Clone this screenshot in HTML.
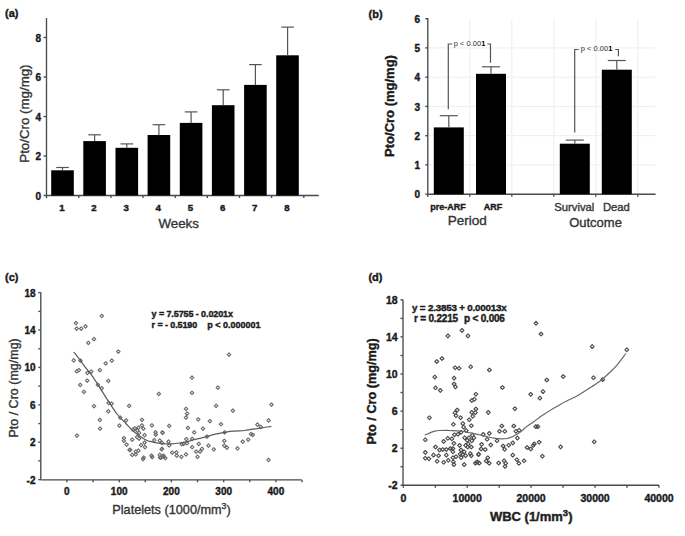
<!DOCTYPE html>
<html><head><meta charset="utf-8"><style>
html,body{margin:0;padding:0;background:#fff;}
svg{display:block;font-family:"Liberation Sans", sans-serif;}
.n{stroke:#333;stroke-width:0.35px;}
.b{stroke:#1a1a1a;stroke-width:0.4px;}
</style></head><body>
<svg width="685" height="536" viewBox="0 0 685 536">
<rect width="685" height="536" fill="#fff"/>
<text x="5.0" y="17.3" font-size="11" font-weight="bold" text-anchor="start" fill="#1a1a1a"  class="b">(a)</text>
<line x1="46.5" y1="18.0" x2="46.5" y2="195.5" stroke="#4a4a4a" stroke-width="1.35"/>
<line x1="46.5" y1="195.5" x2="318.8" y2="195.5" stroke="#4a4a4a" stroke-width="1.35"/>
<line x1="46.5" y1="195.5" x2="46.5" y2="198.3" stroke="#4a4a4a" stroke-width="1.35"/>
<line x1="43.5" y1="195.5" x2="46.5" y2="195.5" stroke="#4a4a4a" stroke-width="1.35"/>
<text x="41.0" y="199.6" font-size="10" font-weight="bold" text-anchor="end" fill="#1a1a1a"  class="b">0</text>
<line x1="43.5" y1="156.0" x2="46.5" y2="156.0" stroke="#4a4a4a" stroke-width="1.35"/>
<text x="41.0" y="160.1" font-size="10" font-weight="bold" text-anchor="end" fill="#1a1a1a"  class="b">2</text>
<line x1="43.5" y1="116.5" x2="46.5" y2="116.5" stroke="#4a4a4a" stroke-width="1.35"/>
<text x="41.0" y="120.6" font-size="10" font-weight="bold" text-anchor="end" fill="#1a1a1a"  class="b">4</text>
<line x1="43.5" y1="77.0" x2="46.5" y2="77.0" stroke="#4a4a4a" stroke-width="1.35"/>
<text x="41.0" y="81.1" font-size="10" font-weight="bold" text-anchor="end" fill="#1a1a1a"  class="b">6</text>
<line x1="43.5" y1="37.5" x2="46.5" y2="37.5" stroke="#4a4a4a" stroke-width="1.35"/>
<text x="41.0" y="41.6" font-size="10" font-weight="bold" text-anchor="end" fill="#1a1a1a"  class="b">8</text>
<line x1="78.8" y1="195.5" x2="78.8" y2="198.0" stroke="#4a4a4a" stroke-width="1.35"/>
<line x1="110.9" y1="195.5" x2="110.9" y2="198.0" stroke="#4a4a4a" stroke-width="1.35"/>
<line x1="143.0" y1="195.5" x2="143.0" y2="198.0" stroke="#4a4a4a" stroke-width="1.35"/>
<line x1="175.2" y1="195.5" x2="175.2" y2="198.0" stroke="#4a4a4a" stroke-width="1.35"/>
<line x1="207.3" y1="195.5" x2="207.3" y2="198.0" stroke="#4a4a4a" stroke-width="1.35"/>
<line x1="239.5" y1="195.5" x2="239.5" y2="198.0" stroke="#4a4a4a" stroke-width="1.35"/>
<line x1="271.6" y1="195.5" x2="271.6" y2="198.0" stroke="#4a4a4a" stroke-width="1.35"/>
<line x1="303.8" y1="195.5" x2="303.8" y2="198.0" stroke="#4a4a4a" stroke-width="1.35"/>
<rect x="51.2" y="170.3" width="22.6" height="25.2" fill="#000"/>
<line x1="62.5" y1="167.5" x2="62.5" y2="170.3" stroke="#555" stroke-width="1.2"/>
<line x1="56.2" y1="167.5" x2="68.8" y2="167.5" stroke="#555" stroke-width="1.2"/>
<text x="61.9" y="210.5" font-size="9.7" font-weight="bold" text-anchor="middle" fill="#1a1a1a"  class="b">1</text>
<rect x="83.3" y="141.1" width="22.6" height="54.4" fill="#000"/>
<line x1="94.6" y1="134.8" x2="94.6" y2="141.1" stroke="#555" stroke-width="1.2"/>
<line x1="88.3" y1="134.8" x2="100.9" y2="134.8" stroke="#555" stroke-width="1.2"/>
<text x="94.0" y="210.5" font-size="9.7" font-weight="bold" text-anchor="middle" fill="#1a1a1a"  class="b">2</text>
<rect x="115.5" y="147.8" width="22.6" height="47.7" fill="#000"/>
<line x1="126.8" y1="143.9" x2="126.8" y2="147.8" stroke="#555" stroke-width="1.2"/>
<line x1="120.5" y1="143.9" x2="133.1" y2="143.9" stroke="#555" stroke-width="1.2"/>
<text x="126.2" y="210.5" font-size="9.7" font-weight="bold" text-anchor="middle" fill="#1a1a1a"  class="b">3</text>
<rect x="147.6" y="135.0" width="22.6" height="60.5" fill="#000"/>
<line x1="158.9" y1="124.7" x2="158.9" y2="135.0" stroke="#555" stroke-width="1.2"/>
<line x1="152.6" y1="124.7" x2="165.2" y2="124.7" stroke="#555" stroke-width="1.2"/>
<text x="158.3" y="210.5" font-size="9.7" font-weight="bold" text-anchor="middle" fill="#1a1a1a"  class="b">4</text>
<rect x="179.8" y="122.9" width="22.6" height="72.6" fill="#000"/>
<line x1="191.1" y1="111.9" x2="191.1" y2="122.9" stroke="#555" stroke-width="1.2"/>
<line x1="184.8" y1="111.9" x2="197.4" y2="111.9" stroke="#555" stroke-width="1.2"/>
<text x="190.5" y="210.5" font-size="9.7" font-weight="bold" text-anchor="middle" fill="#1a1a1a"  class="b">5</text>
<rect x="211.9" y="105.2" width="22.6" height="90.3" fill="#000"/>
<line x1="223.2" y1="89.8" x2="223.2" y2="105.2" stroke="#555" stroke-width="1.2"/>
<line x1="216.9" y1="89.8" x2="229.6" y2="89.8" stroke="#555" stroke-width="1.2"/>
<text x="222.7" y="210.5" font-size="9.7" font-weight="bold" text-anchor="middle" fill="#1a1a1a"  class="b">6</text>
<rect x="244.1" y="84.9" width="22.6" height="110.6" fill="#000"/>
<line x1="255.4" y1="64.6" x2="255.4" y2="84.9" stroke="#555" stroke-width="1.2"/>
<line x1="249.1" y1="64.6" x2="261.7" y2="64.6" stroke="#555" stroke-width="1.2"/>
<text x="254.8" y="210.5" font-size="9.7" font-weight="bold" text-anchor="middle" fill="#1a1a1a"  class="b">7</text>
<rect x="276.2" y="55.3" width="22.6" height="140.2" fill="#000"/>
<line x1="287.6" y1="27.1" x2="287.6" y2="55.3" stroke="#555" stroke-width="1.2"/>
<line x1="281.2" y1="27.1" x2="293.9" y2="27.1" stroke="#555" stroke-width="1.2"/>
<text x="286.9" y="210.5" font-size="9.7" font-weight="bold" text-anchor="middle" fill="#1a1a1a"  class="b">8</text>
<text x="178.7" y="227.9" font-size="13.3" font-weight="normal" text-anchor="middle" fill="#333" class="n">Weeks</text>
<text transform="translate(29.4,113.6) rotate(-90)" font-size="13.3" text-anchor="middle" fill="#333" class="n">Pto/Cro (mg/mg)</text>
<text x="368.5" y="17.8" font-size="11" font-weight="bold" text-anchor="start" fill="#1a1a1a"  class="b">(b)</text>
<line x1="427.8" y1="164.9" x2="655.6" y2="164.9" stroke="#eeeeee" stroke-width="1"/>
<line x1="427.8" y1="135.7" x2="655.6" y2="135.7" stroke="#eeeeee" stroke-width="1"/>
<line x1="427.8" y1="106.4" x2="655.6" y2="106.4" stroke="#eeeeee" stroke-width="1"/>
<line x1="427.8" y1="77.2" x2="655.6" y2="77.2" stroke="#eeeeee" stroke-width="1"/>
<line x1="427.8" y1="47.9" x2="655.6" y2="47.9" stroke="#eeeeee" stroke-width="1"/>
<line x1="469.8" y1="19.0" x2="469.8" y2="194.2" stroke="#eeeeee" stroke-width="1"/>
<line x1="511.8" y1="19.0" x2="511.8" y2="194.2" stroke="#eeeeee" stroke-width="1"/>
<line x1="553.8" y1="19.0" x2="553.8" y2="194.2" stroke="#eeeeee" stroke-width="1"/>
<line x1="595.8" y1="19.0" x2="595.8" y2="194.2" stroke="#eeeeee" stroke-width="1"/>
<line x1="637.8" y1="19.0" x2="637.8" y2="194.2" stroke="#eeeeee" stroke-width="1"/>
<line x1="427.8" y1="18.0" x2="427.8" y2="194.2" stroke="#4a4a4a" stroke-width="1.35"/>
<line x1="427.8" y1="194.2" x2="655.6" y2="194.2" stroke="#4a4a4a" stroke-width="1.35"/>
<line x1="427.8" y1="194.2" x2="427.8" y2="197.0" stroke="#4a4a4a" stroke-width="1.35"/>
<line x1="425.3" y1="194.2" x2="427.8" y2="194.2" stroke="#4a4a4a" stroke-width="1.35"/>
<text x="420.0" y="198.4" font-size="10" font-weight="bold" text-anchor="end" fill="#1a1a1a"  class="b">0</text>
<line x1="425.3" y1="164.9" x2="427.8" y2="164.9" stroke="#4a4a4a" stroke-width="1.35"/>
<text x="420.0" y="169.1" font-size="10" font-weight="bold" text-anchor="end" fill="#1a1a1a"  class="b">1</text>
<line x1="425.3" y1="135.7" x2="427.8" y2="135.7" stroke="#4a4a4a" stroke-width="1.35"/>
<text x="420.0" y="139.9" font-size="10" font-weight="bold" text-anchor="end" fill="#1a1a1a"  class="b">2</text>
<line x1="425.3" y1="106.4" x2="427.8" y2="106.4" stroke="#4a4a4a" stroke-width="1.35"/>
<text x="420.0" y="110.6" font-size="10" font-weight="bold" text-anchor="end" fill="#1a1a1a"  class="b">3</text>
<line x1="425.3" y1="77.2" x2="427.8" y2="77.2" stroke="#4a4a4a" stroke-width="1.35"/>
<text x="420.0" y="81.4" font-size="10" font-weight="bold" text-anchor="end" fill="#1a1a1a"  class="b">4</text>
<line x1="425.3" y1="47.9" x2="427.8" y2="47.9" stroke="#4a4a4a" stroke-width="1.35"/>
<text x="420.0" y="52.1" font-size="10" font-weight="bold" text-anchor="end" fill="#1a1a1a"  class="b">5</text>
<line x1="425.3" y1="18.7" x2="427.8" y2="18.7" stroke="#4a4a4a" stroke-width="1.35"/>
<text x="420.0" y="22.9" font-size="10" font-weight="bold" text-anchor="end" fill="#1a1a1a"  class="b">6</text>
<line x1="469.8" y1="194.2" x2="469.8" y2="196.7" stroke="#4a4a4a" stroke-width="1.35"/>
<line x1="511.8" y1="194.2" x2="511.8" y2="196.7" stroke="#4a4a4a" stroke-width="1.35"/>
<line x1="553.8" y1="194.2" x2="553.8" y2="196.7" stroke="#4a4a4a" stroke-width="1.35"/>
<line x1="595.8" y1="194.2" x2="595.8" y2="196.7" stroke="#4a4a4a" stroke-width="1.35"/>
<line x1="637.8" y1="194.2" x2="637.8" y2="196.7" stroke="#4a4a4a" stroke-width="1.35"/>
<rect x="433.8" y="127.4" width="30" height="66.8" fill="#000"/>
<line x1="448.8" y1="115.7" x2="448.8" y2="127.4" stroke="#555" stroke-width="1.2"/>
<line x1="439.8" y1="115.7" x2="457.8" y2="115.7" stroke="#555" stroke-width="1.2"/>
<rect x="476.0" y="73.8" width="30" height="120.4" fill="#000"/>
<line x1="491.0" y1="66.8" x2="491.0" y2="73.8" stroke="#555" stroke-width="1.2"/>
<line x1="482.0" y1="66.8" x2="500.0" y2="66.8" stroke="#555" stroke-width="1.2"/>
<rect x="559.8" y="143.7" width="30" height="50.5" fill="#000"/>
<line x1="574.8" y1="140.1" x2="574.8" y2="143.7" stroke="#555" stroke-width="1.2"/>
<line x1="565.8" y1="140.1" x2="583.8" y2="140.1" stroke="#555" stroke-width="1.2"/>
<rect x="601.8" y="69.7" width="30" height="124.5" fill="#000"/>
<line x1="616.8" y1="60.5" x2="616.8" y2="69.7" stroke="#555" stroke-width="1.2"/>
<line x1="607.8" y1="60.5" x2="625.8" y2="60.5" stroke="#555" stroke-width="1.2"/>
<polyline points="448.3,109.3 448.3,44 452.3,44" fill="none" stroke="#555" stroke-width="1.2"/>
<polyline points="487.3,44 490.5,44 490.5,62.7" fill="none" stroke="#555" stroke-width="1.2"/>
<text x="453.8" y="45.9" font-size="7.5" fill="#333">p &lt; 0.00<tspan font-weight="bold" fill="#000">1</tspan></text>
<polyline points="574.7,132.6 574.7,49.5 578.7,49.5" fill="none" stroke="#555" stroke-width="1.2"/>
<polyline points="615.1999999999999,49.5 618.4,49.5 618.4,56.3" fill="none" stroke="#555" stroke-width="1.2"/>
<text x="580.8" y="50.7" font-size="7.5" fill="#333">p &lt; 0.00<tspan font-weight="bold" fill="#000">1</tspan></text>
<text x="448.0" y="210.0" font-size="9" font-weight="bold" text-anchor="middle" fill="#1a1a1a"  class="b">pre-ARF</text>
<text x="493.0" y="210.0" font-size="9" font-weight="bold" text-anchor="middle" fill="#1a1a1a"  class="b">ARF</text>
<text x="574.3" y="210.8" font-size="11.3" font-weight="normal" text-anchor="middle" fill="#333" class="n">Survival</text>
<text x="616.4" y="210.8" font-size="11.3" font-weight="normal" text-anchor="middle" fill="#333" class="n">Dead</text>
<text x="467.3" y="224.9" font-size="13.5" font-weight="normal" text-anchor="middle" fill="#333" class="n">Period</text>
<text x="595.5" y="226.9" font-size="13" font-weight="normal" text-anchor="middle" fill="#333" class="n">Outcome</text>
<text transform="translate(394,106) rotate(-90)" font-size="13" font-weight="bold" text-anchor="middle" fill="#1a1a1a" class="b">Pto/Cro (mg/mg)</text>
<text x="5.0" y="281.2" font-size="11" font-weight="bold" text-anchor="start" fill="#1a1a1a"  class="b">(c)</text>
<line x1="40.8" y1="292.2" x2="40.8" y2="479.8" stroke="#4a4a4a" stroke-width="1.35"/>
<line x1="40.8" y1="479.8" x2="301.6" y2="479.8" stroke="#4a4a4a" stroke-width="1.35"/>
<line x1="38.3" y1="479.6" x2="40.8" y2="479.6" stroke="#4a4a4a" stroke-width="1.35"/>
<text x="35.5" y="483.5" font-size="10" font-weight="bold" text-anchor="end" fill="#1a1a1a"  class="b">-2</text>
<line x1="38.3" y1="460.9" x2="40.8" y2="460.9" stroke="#4a4a4a" stroke-width="1.35"/>
<line x1="38.3" y1="442.2" x2="40.8" y2="442.2" stroke="#4a4a4a" stroke-width="1.35"/>
<text x="35.5" y="446.1" font-size="10" font-weight="bold" text-anchor="end" fill="#1a1a1a"  class="b">2</text>
<line x1="38.3" y1="423.6" x2="40.8" y2="423.6" stroke="#4a4a4a" stroke-width="1.35"/>
<line x1="38.3" y1="404.9" x2="40.8" y2="404.9" stroke="#4a4a4a" stroke-width="1.35"/>
<text x="35.5" y="408.8" font-size="10" font-weight="bold" text-anchor="end" fill="#1a1a1a"  class="b">6</text>
<line x1="38.3" y1="386.1" x2="40.8" y2="386.1" stroke="#4a4a4a" stroke-width="1.35"/>
<line x1="38.3" y1="367.4" x2="40.8" y2="367.4" stroke="#4a4a4a" stroke-width="1.35"/>
<text x="35.5" y="371.3" font-size="10" font-weight="bold" text-anchor="end" fill="#1a1a1a"  class="b">10</text>
<line x1="38.3" y1="348.8" x2="40.8" y2="348.8" stroke="#4a4a4a" stroke-width="1.35"/>
<line x1="38.3" y1="330.0" x2="40.8" y2="330.0" stroke="#4a4a4a" stroke-width="1.35"/>
<text x="35.5" y="333.9" font-size="10" font-weight="bold" text-anchor="end" fill="#1a1a1a"  class="b">14</text>
<line x1="38.3" y1="311.4" x2="40.8" y2="311.4" stroke="#4a4a4a" stroke-width="1.35"/>
<line x1="38.3" y1="292.6" x2="40.8" y2="292.6" stroke="#4a4a4a" stroke-width="1.35"/>
<text x="35.5" y="296.5" font-size="10" font-weight="bold" text-anchor="end" fill="#1a1a1a"  class="b">18</text>
<line x1="66.9" y1="479.8" x2="66.9" y2="482.3" stroke="#4a4a4a" stroke-width="1.35"/>
<text x="66.9" y="494.6" font-size="10" font-weight="bold" text-anchor="middle" fill="#1a1a1a"  class="b">0</text>
<line x1="93.0" y1="479.8" x2="93.0" y2="482.3" stroke="#4a4a4a" stroke-width="1.35"/>
<line x1="119.2" y1="479.8" x2="119.2" y2="482.3" stroke="#4a4a4a" stroke-width="1.35"/>
<text x="119.2" y="494.6" font-size="10" font-weight="bold" text-anchor="middle" fill="#1a1a1a"  class="b">100</text>
<line x1="145.3" y1="479.8" x2="145.3" y2="482.3" stroke="#4a4a4a" stroke-width="1.35"/>
<line x1="171.4" y1="479.8" x2="171.4" y2="482.3" stroke="#4a4a4a" stroke-width="1.35"/>
<text x="171.4" y="494.6" font-size="10" font-weight="bold" text-anchor="middle" fill="#1a1a1a"  class="b">200</text>
<line x1="197.5" y1="479.8" x2="197.5" y2="482.3" stroke="#4a4a4a" stroke-width="1.35"/>
<line x1="223.7" y1="479.8" x2="223.7" y2="482.3" stroke="#4a4a4a" stroke-width="1.35"/>
<text x="223.7" y="494.6" font-size="10" font-weight="bold" text-anchor="middle" fill="#1a1a1a"  class="b">300</text>
<line x1="249.8" y1="479.8" x2="249.8" y2="482.3" stroke="#4a4a4a" stroke-width="1.35"/>
<line x1="275.9" y1="479.8" x2="275.9" y2="482.3" stroke="#4a4a4a" stroke-width="1.35"/>
<text x="275.9" y="494.6" font-size="10" font-weight="bold" text-anchor="middle" fill="#1a1a1a"  class="b">400</text>
<line x1="302.0" y1="479.8" x2="302.0" y2="482.3" stroke="#4a4a4a" stroke-width="1.35"/>
<text x="112.3" y="513.8" font-size="12.7" font-weight="normal" text-anchor="start" fill="#333" class="n">Platelets (1000/mm<tspan font-size="8.6" dy="-4.9">3</tspan><tspan dy="4.9">)</tspan></text>
<text transform="translate(17.8,387.9) rotate(-90)" font-size="12.5" text-anchor="middle" fill="#333" class="n">Pto / Cro (mg/mg)</text>
<text x="151.6" y="316.8" font-size="9" font-weight="bold" text-anchor="start" fill="#222" letter-spacing="-0.1" class="b">y = 7.5755 - 0.0201x</text>
<text x="151.6" y="327.6" font-size="9" font-weight="bold" text-anchor="start" fill="#222" letter-spacing="-0.1" class="b">r = - 0.5190</text>
<text x="207.3" y="327.6" font-size="9" font-weight="bold" text-anchor="start" fill="#222" letter-spacing="0" class="b">p &lt; 0.000001</text>
<text x="368.4" y="281.2" font-size="11" font-weight="bold" text-anchor="start" fill="#1a1a1a"  class="b">(d)</text>
<line x1="403.0" y1="299.8" x2="403.0" y2="485.2" stroke="#4a4a4a" stroke-width="1.35"/>
<line x1="403.0" y1="485.2" x2="659.0" y2="485.2" stroke="#4a4a4a" stroke-width="1.35"/>
<line x1="400.5" y1="485.2" x2="403.0" y2="485.2" stroke="#4a4a4a" stroke-width="1.35"/>
<text x="397.6" y="489.2" font-size="10.5" font-weight="bold" text-anchor="end" fill="#1a1a1a"  class="b">-2</text>
<line x1="400.5" y1="466.7" x2="403.0" y2="466.7" stroke="#4a4a4a" stroke-width="1.35"/>
<line x1="400.5" y1="448.2" x2="403.0" y2="448.2" stroke="#4a4a4a" stroke-width="1.35"/>
<text x="397.6" y="452.2" font-size="10.5" font-weight="bold" text-anchor="end" fill="#1a1a1a"  class="b">2</text>
<line x1="400.5" y1="429.6" x2="403.0" y2="429.6" stroke="#4a4a4a" stroke-width="1.35"/>
<line x1="400.5" y1="411.1" x2="403.0" y2="411.1" stroke="#4a4a4a" stroke-width="1.35"/>
<text x="397.6" y="415.1" font-size="10.5" font-weight="bold" text-anchor="end" fill="#1a1a1a"  class="b">6</text>
<line x1="400.5" y1="392.5" x2="403.0" y2="392.5" stroke="#4a4a4a" stroke-width="1.35"/>
<line x1="400.5" y1="374.0" x2="403.0" y2="374.0" stroke="#4a4a4a" stroke-width="1.35"/>
<text x="397.6" y="378.0" font-size="10.5" font-weight="bold" text-anchor="end" fill="#1a1a1a"  class="b">10</text>
<line x1="400.5" y1="355.5" x2="403.0" y2="355.5" stroke="#4a4a4a" stroke-width="1.35"/>
<line x1="400.5" y1="336.9" x2="403.0" y2="336.9" stroke="#4a4a4a" stroke-width="1.35"/>
<text x="397.6" y="340.9" font-size="10.5" font-weight="bold" text-anchor="end" fill="#1a1a1a"  class="b">14</text>
<line x1="400.5" y1="318.4" x2="403.0" y2="318.4" stroke="#4a4a4a" stroke-width="1.35"/>
<line x1="400.5" y1="299.8" x2="403.0" y2="299.8" stroke="#4a4a4a" stroke-width="1.35"/>
<text x="397.6" y="303.8" font-size="10.5" font-weight="bold" text-anchor="end" fill="#1a1a1a"  class="b">18</text>
<line x1="403.3" y1="485.2" x2="403.3" y2="487.7" stroke="#4a4a4a" stroke-width="1.35"/>
<text x="403.3" y="502.0" font-size="10.5" font-weight="bold" text-anchor="middle" fill="#1a1a1a"  class="b">0</text>
<line x1="435.3" y1="485.2" x2="435.3" y2="487.7" stroke="#4a4a4a" stroke-width="1.35"/>
<line x1="467.2" y1="485.2" x2="467.2" y2="487.7" stroke="#4a4a4a" stroke-width="1.35"/>
<text x="467.2" y="502.0" font-size="10.5" font-weight="bold" text-anchor="middle" fill="#1a1a1a"  class="b">10000</text>
<line x1="499.2" y1="485.2" x2="499.2" y2="487.7" stroke="#4a4a4a" stroke-width="1.35"/>
<line x1="531.1" y1="485.2" x2="531.1" y2="487.7" stroke="#4a4a4a" stroke-width="1.35"/>
<text x="531.1" y="502.0" font-size="10.5" font-weight="bold" text-anchor="middle" fill="#1a1a1a"  class="b">20000</text>
<line x1="563.1" y1="485.2" x2="563.1" y2="487.7" stroke="#4a4a4a" stroke-width="1.35"/>
<line x1="595.1" y1="485.2" x2="595.1" y2="487.7" stroke="#4a4a4a" stroke-width="1.35"/>
<text x="595.1" y="502.0" font-size="10.5" font-weight="bold" text-anchor="middle" fill="#1a1a1a"  class="b">30000</text>
<line x1="627.0" y1="485.2" x2="627.0" y2="487.7" stroke="#4a4a4a" stroke-width="1.35"/>
<line x1="659.0" y1="485.2" x2="659.0" y2="487.7" stroke="#4a4a4a" stroke-width="1.35"/>
<text x="659.0" y="502.0" font-size="10.5" font-weight="bold" text-anchor="middle" fill="#1a1a1a"  class="b">40000</text>
<text x="489.9" y="520.5" font-size="13.0" font-weight="bold" text-anchor="start" fill="#222"  class="b">WBC (1/mm<tspan font-size="9.5" dy="-5.0">3</tspan><tspan dy="5.0">)</tspan></text>
<text transform="translate(376.3,391.4) rotate(-90)" font-size="12.7" font-weight="bold" text-anchor="middle" fill="#1a1a1a" class="b">Pto / Cro (mg/mg)</text>
<text x="459.3" y="311.3" font-size="9.8" font-weight="bold" text-anchor="middle" fill="#222" letter-spacing="-0.2" class="b">y = 2.3853 + 0.00013x</text>
<text x="414.0" y="321.7" font-size="10" font-weight="bold" text-anchor="start" fill="#222" letter-spacing="-0.2" class="b">r = 0.2215</text>
<text x="464.0" y="321.7" font-size="10" font-weight="bold" text-anchor="start" fill="#222" letter-spacing="-0.2" class="b">p &lt; 0.006</text>
<path d="M101.8,314.1l1.75,1.75l-1.75,1.75l-1.75,-1.75zM75.9,321.4l1.75,1.75l-1.75,1.75l-1.75,-1.75zM76.6,326.9l1.75,1.75l-1.75,1.75l-1.75,-1.75zM81.2,326.9l1.75,1.75l-1.75,1.75l-1.75,-1.75zM85.5,324.6l1.75,1.75l-1.75,1.75l-1.75,-1.75zM94.0,337.4l1.75,1.75l-1.75,1.75l-1.75,-1.75zM88.3,341.1l1.75,1.75l-1.75,1.75l-1.75,-1.75zM118.3,349.9l1.75,1.75l-1.75,1.75l-1.75,-1.75zM73.7,358.6l1.75,1.75l-1.75,1.75l-1.75,-1.75zM80.5,358.9l1.75,1.75l-1.75,1.75l-1.75,-1.75zM111.8,358.9l1.75,1.75l-1.75,1.75l-1.75,-1.75zM105.7,361.6l1.75,1.75l-1.75,1.75l-1.75,-1.75zM76.7,369.6l1.75,1.75l-1.75,1.75l-1.75,-1.75zM78.9,368.4l1.75,1.75l-1.75,1.75l-1.75,-1.75zM87.4,371.1l1.75,1.75l-1.75,1.75l-1.75,-1.75zM91.3,369.8l1.75,1.75l-1.75,1.75l-1.75,-1.75zM99.8,368.4l1.75,1.75l-1.75,1.75l-1.75,-1.75zM87.2,378.9l1.75,1.75l-1.75,1.75l-1.75,-1.75zM108.3,379.1l1.75,1.75l-1.75,1.75l-1.75,-1.75zM80.2,383.1l1.75,1.75l-1.75,1.75l-1.75,-1.75zM97.9,383.1l1.75,1.75l-1.75,1.75l-1.75,-1.75zM101.8,386.4l1.75,1.75l-1.75,1.75l-1.75,-1.75zM83.9,390.1l1.75,1.75l-1.75,1.75l-1.75,-1.75zM108.6,401.1l1.75,1.75l-1.75,1.75l-1.75,-1.75zM111.6,401.8l1.75,1.75l-1.75,1.75l-1.75,-1.75zM129.1,404.1l1.75,1.75l-1.75,1.75l-1.75,-1.75zM94.0,404.4l1.75,1.75l-1.75,1.75l-1.75,-1.75zM108.3,409.6l1.75,1.75l-1.75,1.75l-1.75,-1.75zM99.8,418.1l1.75,1.75l-1.75,1.75l-1.75,-1.75zM120.2,415.9l1.75,1.75l-1.75,1.75l-1.75,-1.75zM126.1,418.6l1.75,1.75l-1.75,1.75l-1.75,-1.75zM119.4,423.8l1.75,1.75l-1.75,1.75l-1.75,-1.75zM100.1,426.9l1.75,1.75l-1.75,1.75l-1.75,-1.75zM76.9,433.8l1.75,1.75l-1.75,1.75l-1.75,-1.75zM123.9,436.4l1.75,1.75l-1.75,1.75l-1.75,-1.75zM123.9,439.1l1.75,1.75l-1.75,1.75l-1.75,-1.75zM126.6,442.9l1.75,1.75l-1.75,1.75l-1.75,-1.75zM129.5,448.1l1.75,1.75l-1.75,1.75l-1.75,-1.75zM158.8,392.2l1.75,1.75l-1.75,1.75l-1.75,-1.75zM192.0,375.9l1.75,1.75l-1.75,1.75l-1.75,-1.75zM217.9,385.9l1.75,1.75l-1.75,1.75l-1.75,-1.75zM192.0,391.1l1.75,1.75l-1.75,1.75l-1.75,-1.75zM229.0,352.9l1.75,1.75l-1.75,1.75l-1.75,-1.75zM271.5,402.8l1.75,1.75l-1.75,1.75l-1.75,-1.75zM142.0,418.1l1.75,1.75l-1.75,1.75l-1.75,-1.75zM142.0,423.6l1.75,1.75l-1.75,1.75l-1.75,-1.75zM143.3,426.9l1.75,1.75l-1.75,1.75l-1.75,-1.75zM151.9,423.6l1.75,1.75l-1.75,1.75l-1.75,-1.75zM134.8,426.6l1.75,1.75l-1.75,1.75l-1.75,-1.75zM138.4,425.9l1.75,1.75l-1.75,1.75l-1.75,-1.75zM133.1,427.9l1.75,1.75l-1.75,1.75l-1.75,-1.75zM137.4,428.9l1.75,1.75l-1.75,1.75l-1.75,-1.75zM139.1,431.1l1.75,1.75l-1.75,1.75l-1.75,-1.75zM144.6,433.4l1.75,1.75l-1.75,1.75l-1.75,-1.75zM137.1,435.4l1.75,1.75l-1.75,1.75l-1.75,-1.75zM139.1,436.8l1.75,1.75l-1.75,1.75l-1.75,-1.75zM155.5,430.6l1.75,1.75l-1.75,1.75l-1.75,-1.75zM155.8,432.9l1.75,1.75l-1.75,1.75l-1.75,-1.75zM162.4,430.6l1.75,1.75l-1.75,1.75l-1.75,-1.75zM132.2,437.9l1.75,1.75l-1.75,1.75l-1.75,-1.75zM144.6,440.8l1.75,1.75l-1.75,1.75l-1.75,-1.75zM154.2,438.4l1.75,1.75l-1.75,1.75l-1.75,-1.75zM159.8,438.8l1.75,1.75l-1.75,1.75l-1.75,-1.75zM162.0,441.1l1.75,1.75l-1.75,1.75l-1.75,-1.75zM141.0,443.4l1.75,1.75l-1.75,1.75l-1.75,-1.75zM145.0,445.4l1.75,1.75l-1.75,1.75l-1.75,-1.75zM130.2,448.2l1.75,1.75l-1.75,1.75l-1.75,-1.75zM161.7,447.6l1.75,1.75l-1.75,1.75l-1.75,-1.75zM135.8,449.9l1.75,1.75l-1.75,1.75l-1.75,-1.75zM138.4,448.9l1.75,1.75l-1.75,1.75l-1.75,-1.75zM132.2,453.1l1.75,1.75l-1.75,1.75l-1.75,-1.75zM135.8,452.6l1.75,1.75l-1.75,1.75l-1.75,-1.75zM143.7,455.9l1.75,1.75l-1.75,1.75l-1.75,-1.75zM143.0,457.4l1.75,1.75l-1.75,1.75l-1.75,-1.75zM151.5,453.9l1.75,1.75l-1.75,1.75l-1.75,-1.75zM152.2,455.4l1.75,1.75l-1.75,1.75l-1.75,-1.75zM159.8,453.1l1.75,1.75l-1.75,1.75l-1.75,-1.75zM160.1,455.9l1.75,1.75l-1.75,1.75l-1.75,-1.75zM163.4,453.9l1.75,1.75l-1.75,1.75l-1.75,-1.75zM186.0,407.1l1.75,1.75l-1.75,1.75l-1.75,-1.75zM187.1,411.9l1.75,1.75l-1.75,1.75l-1.75,-1.75zM186.0,415.9l1.75,1.75l-1.75,1.75l-1.75,-1.75zM198.2,417.6l1.75,1.75l-1.75,1.75l-1.75,-1.75zM169.2,424.2l1.75,1.75l-1.75,1.75l-1.75,-1.75zM187.9,426.2l1.75,1.75l-1.75,1.75l-1.75,-1.75zM203.0,426.9l1.75,1.75l-1.75,1.75l-1.75,-1.75zM194.2,430.6l1.75,1.75l-1.75,1.75l-1.75,-1.75zM162.6,431.1l1.75,1.75l-1.75,1.75l-1.75,-1.75zM168.5,439.8l1.75,1.75l-1.75,1.75l-1.75,-1.75zM169.2,443.6l1.75,1.75l-1.75,1.75l-1.75,-1.75zM186.3,437.4l1.75,1.75l-1.75,1.75l-1.75,-1.75zM192.2,437.1l1.75,1.75l-1.75,1.75l-1.75,-1.75zM181.7,442.4l1.75,1.75l-1.75,1.75l-1.75,-1.75zM186.9,441.4l1.75,1.75l-1.75,1.75l-1.75,-1.75zM183.7,442.1l1.75,1.75l-1.75,1.75l-1.75,-1.75zM162.0,447.2l1.75,1.75l-1.75,1.75l-1.75,-1.75zM198.8,442.1l1.75,1.75l-1.75,1.75l-1.75,-1.75zM192.2,445.4l1.75,1.75l-1.75,1.75l-1.75,-1.75zM196.1,449.9l1.75,1.75l-1.75,1.75l-1.75,-1.75zM200.1,449.9l1.75,1.75l-1.75,1.75l-1.75,-1.75zM202.0,447.2l1.75,1.75l-1.75,1.75l-1.75,-1.75zM172.2,450.9l1.75,1.75l-1.75,1.75l-1.75,-1.75zM176.4,450.6l1.75,1.75l-1.75,1.75l-1.75,-1.75zM176.8,453.9l1.75,1.75l-1.75,1.75l-1.75,-1.75zM181.4,455.1l1.75,1.75l-1.75,1.75l-1.75,-1.75zM186.0,452.6l1.75,1.75l-1.75,1.75l-1.75,-1.75zM197.5,455.1l1.75,1.75l-1.75,1.75l-1.75,-1.75zM164.0,455.1l1.75,1.75l-1.75,1.75l-1.75,-1.75zM165.3,456.4l1.75,1.75l-1.75,1.75l-1.75,-1.75zM161.0,455.9l1.75,1.75l-1.75,1.75l-1.75,-1.75zM216.1,404.1l1.75,1.75l-1.75,1.75l-1.75,-1.75zM232.9,408.9l1.75,1.75l-1.75,1.75l-1.75,-1.75zM209.9,419.4l1.75,1.75l-1.75,1.75l-1.75,-1.75zM221.0,422.4l1.75,1.75l-1.75,1.75l-1.75,-1.75zM206.9,434.8l1.75,1.75l-1.75,1.75l-1.75,-1.75zM224.6,430.6l1.75,1.75l-1.75,1.75l-1.75,-1.75zM224.3,439.1l1.75,1.75l-1.75,1.75l-1.75,-1.75zM242.7,439.8l1.75,1.75l-1.75,1.75l-1.75,-1.75zM208.5,443.9l1.75,1.75l-1.75,1.75l-1.75,-1.75zM224.3,443.9l1.75,1.75l-1.75,1.75l-1.75,-1.75zM226.9,445.9l1.75,1.75l-1.75,1.75l-1.75,-1.75zM213.8,447.6l1.75,1.75l-1.75,1.75l-1.75,-1.75zM237.5,446.6l1.75,1.75l-1.75,1.75l-1.75,-1.75zM268.6,418.6l1.75,1.75l-1.75,1.75l-1.75,-1.75zM257.4,422.9l1.75,1.75l-1.75,1.75l-1.75,-1.75zM260.8,425.1l1.75,1.75l-1.75,1.75l-1.75,-1.75zM251.0,432.4l1.75,1.75l-1.75,1.75l-1.75,-1.75zM252.8,433.1l1.75,1.75l-1.75,1.75l-1.75,-1.75zM248.2,437.9l1.75,1.75l-1.75,1.75l-1.75,-1.75zM268.5,458.1l1.75,1.75l-1.75,1.75l-1.75,-1.75z" fill="none" stroke="#6a6a6a" stroke-width="1.15" stroke-linejoin="round"/>
<path d="M73.7,352.0 C74.8,353.4 78.3,357.8 80.5,360.7 C82.7,363.6 85.0,366.9 86.8,369.2 C88.6,371.5 89.4,372.0 91.3,374.6 C93.2,377.2 95.0,380.0 97.9,384.6 C100.9,389.2 105.8,397.3 109.0,402.2 C112.2,407.1 114.2,410.4 117.0,414.0 C119.8,417.6 123.2,420.7 125.9,423.5 C128.6,426.3 129.9,428.3 133.1,431.0 C136.3,433.7 142.2,437.9 145.0,439.6 C147.8,441.3 148.2,440.8 150.2,441.3 C152.2,441.8 154.7,442.4 156.8,442.8 C158.9,443.2 160.2,443.4 162.7,443.6 C165.2,443.8 169.0,443.9 171.8,443.8 C174.6,443.7 176.9,443.4 179.7,443.0 C182.4,442.6 185.8,441.9 188.3,441.3 C190.8,440.7 192.9,440.0 194.8,439.5 C196.8,439.0 198.0,438.8 200.0,438.3 C202.0,437.8 204.2,437.2 206.9,436.5 C209.6,435.8 213.5,434.6 216.4,433.9 C219.3,433.2 221.8,432.8 224.6,432.3 C227.3,431.9 229.5,431.5 232.9,431.2 C236.3,430.9 242.0,430.8 245.0,430.5 C248.0,430.2 248.3,429.8 250.9,429.4 C253.5,429.0 257.4,428.6 260.8,428.1 C264.2,427.6 269.6,426.6 271.4,426.3" fill="none" stroke="#5a5a5a" stroke-width="1.2"/>
<path d="M462.0,328.5l1.9,1.9l-1.9,1.9l-1.9,-1.9zM447.9,334.0l1.9,1.9l-1.9,1.9l-1.9,-1.9zM467.9,334.0l1.9,1.9l-1.9,1.9l-1.9,-1.9zM436.8,359.6l1.9,1.9l-1.9,1.9l-1.9,-1.9zM442.0,356.6l1.9,1.9l-1.9,1.9l-1.9,-1.9zM455.1,365.8l1.9,1.9l-1.9,1.9l-1.9,-1.9zM459.0,366.4l1.9,1.9l-1.9,1.9l-1.9,-1.9zM470.7,364.9l1.9,1.9l-1.9,1.9l-1.9,-1.9zM434.8,375.2l1.9,1.9l-1.9,1.9l-1.9,-1.9zM454.1,376.2l1.9,1.9l-1.9,1.9l-1.9,-1.9zM454.1,382.1l1.9,1.9l-1.9,1.9l-1.9,-1.9zM455.4,385.0l1.9,1.9l-1.9,1.9l-1.9,-1.9zM435.5,385.9l1.9,1.9l-1.9,1.9l-1.9,-1.9zM440.3,388.5l1.9,1.9l-1.9,1.9l-1.9,-1.9zM475.9,392.3l1.9,1.9l-1.9,1.9l-1.9,-1.9zM471.8,398.6l1.9,1.9l-1.9,1.9l-1.9,-1.9zM474.4,397.4l1.9,1.9l-1.9,1.9l-1.9,-1.9zM429.4,415.8l1.9,1.9l-1.9,1.9l-1.9,-1.9zM457.2,408.1l1.9,1.9l-1.9,1.9l-1.9,-1.9zM455.0,410.9l1.9,1.9l-1.9,1.9l-1.9,-1.9zM456.0,413.8l1.9,1.9l-1.9,1.9l-1.9,-1.9zM460.6,415.8l1.9,1.9l-1.9,1.9l-1.9,-1.9zM453.4,422.4l1.9,1.9l-1.9,1.9l-1.9,-1.9zM462.9,421.7l1.9,1.9l-1.9,1.9l-1.9,-1.9zM463.6,425.2l1.9,1.9l-1.9,1.9l-1.9,-1.9zM471.8,410.5l1.9,1.9l-1.9,1.9l-1.9,-1.9zM475.9,407.1l1.9,1.9l-1.9,1.9l-1.9,-1.9zM475.4,410.7l1.9,1.9l-1.9,1.9l-1.9,-1.9zM472.8,414.3l1.9,1.9l-1.9,1.9l-1.9,-1.9zM469.3,417.8l1.9,1.9l-1.9,1.9l-1.9,-1.9zM471.3,423.8l1.9,1.9l-1.9,1.9l-1.9,-1.9zM425.3,437.9l1.9,1.9l-1.9,1.9l-1.9,-1.9zM443.7,439.5l1.9,1.9l-1.9,1.9l-1.9,-1.9zM447.8,436.4l1.9,1.9l-1.9,1.9l-1.9,-1.9zM451.9,436.9l1.9,1.9l-1.9,1.9l-1.9,-1.9zM453.9,441.5l1.9,1.9l-1.9,1.9l-1.9,-1.9zM454.5,432.8l1.9,1.9l-1.9,1.9l-1.9,-1.9zM458.0,432.3l1.9,1.9l-1.9,1.9l-1.9,-1.9zM461.1,430.3l1.9,1.9l-1.9,1.9l-1.9,-1.9zM466.2,428.7l1.9,1.9l-1.9,1.9l-1.9,-1.9zM464.7,435.9l1.9,1.9l-1.9,1.9l-1.9,-1.9zM468.8,435.9l1.9,1.9l-1.9,1.9l-1.9,-1.9zM472.3,433.3l1.9,1.9l-1.9,1.9l-1.9,-1.9zM473.9,435.9l1.9,1.9l-1.9,1.9l-1.9,-1.9zM467.2,438.4l1.9,1.9l-1.9,1.9l-1.9,-1.9zM471.8,438.9l1.9,1.9l-1.9,1.9l-1.9,-1.9zM459.6,443.5l1.9,1.9l-1.9,1.9l-1.9,-1.9zM465.7,443.5l1.9,1.9l-1.9,1.9l-1.9,-1.9zM468.2,442.0l1.9,1.9l-1.9,1.9l-1.9,-1.9zM467.7,445.1l1.9,1.9l-1.9,1.9l-1.9,-1.9zM471.3,445.1l1.9,1.9l-1.9,1.9l-1.9,-1.9zM435.5,445.1l1.9,1.9l-1.9,1.9l-1.9,-1.9zM439.6,448.1l1.9,1.9l-1.9,1.9l-1.9,-1.9zM442.7,447.6l1.9,1.9l-1.9,1.9l-1.9,-1.9zM446.3,447.6l1.9,1.9l-1.9,1.9l-1.9,-1.9zM450.4,446.6l1.9,1.9l-1.9,1.9l-1.9,-1.9zM452.9,446.6l1.9,1.9l-1.9,1.9l-1.9,-1.9zM452.9,449.9l1.9,1.9l-1.9,1.9l-1.9,-1.9zM461.1,448.1l1.9,1.9l-1.9,1.9l-1.9,-1.9zM464.2,449.9l1.9,1.9l-1.9,1.9l-1.9,-1.9zM425.3,450.5l1.9,1.9l-1.9,1.9l-1.9,-1.9zM433.5,453.2l1.9,1.9l-1.9,1.9l-1.9,-1.9zM438.6,453.8l1.9,1.9l-1.9,1.9l-1.9,-1.9zM446.3,453.2l1.9,1.9l-1.9,1.9l-1.9,-1.9zM460.1,452.2l1.9,1.9l-1.9,1.9l-1.9,-1.9zM462.6,452.7l1.9,1.9l-1.9,1.9l-1.9,-1.9zM465.7,453.8l1.9,1.9l-1.9,1.9l-1.9,-1.9zM470.3,451.7l1.9,1.9l-1.9,1.9l-1.9,-1.9zM471.3,453.8l1.9,1.9l-1.9,1.9l-1.9,-1.9zM425.3,456.3l1.9,1.9l-1.9,1.9l-1.9,-1.9zM428.9,456.8l1.9,1.9l-1.9,1.9l-1.9,-1.9zM452.9,455.8l1.9,1.9l-1.9,1.9l-1.9,-1.9zM456.0,454.8l1.9,1.9l-1.9,1.9l-1.9,-1.9zM461.1,455.8l1.9,1.9l-1.9,1.9l-1.9,-1.9zM437.1,459.4l1.9,1.9l-1.9,1.9l-1.9,-1.9zM443.7,460.4l1.9,1.9l-1.9,1.9l-1.9,-1.9zM448.3,458.4l1.9,1.9l-1.9,1.9l-1.9,-1.9zM453.4,459.9l1.9,1.9l-1.9,1.9l-1.9,-1.9zM453.9,462.7l1.9,1.9l-1.9,1.9l-1.9,-1.9zM464.2,462.7l1.9,1.9l-1.9,1.9l-1.9,-1.9zM475.4,461.2l1.9,1.9l-1.9,1.9l-1.9,-1.9zM477.3,460.0l1.9,1.9l-1.9,1.9l-1.9,-1.9zM479.2,461.2l1.9,1.9l-1.9,1.9l-1.9,-1.9zM478.5,452.7l1.9,1.9l-1.9,1.9l-1.9,-1.9zM536.0,321.4l1.9,1.9l-1.9,1.9l-1.9,-1.9zM541.0,332.1l1.9,1.9l-1.9,1.9l-1.9,-1.9zM489.4,368.1l1.9,1.9l-1.9,1.9l-1.9,-1.9zM502.4,385.6l1.9,1.9l-1.9,1.9l-1.9,-1.9zM530.7,392.5l1.9,1.9l-1.9,1.9l-1.9,-1.9zM543.0,389.7l1.9,1.9l-1.9,1.9l-1.9,-1.9zM539.9,396.2l1.9,1.9l-1.9,1.9l-1.9,-1.9zM514.9,406.8l1.9,1.9l-1.9,1.9l-1.9,-1.9zM488.3,410.5l1.9,1.9l-1.9,1.9l-1.9,-1.9zM501.8,424.1l1.9,1.9l-1.9,1.9l-1.9,-1.9zM513.8,424.1l1.9,1.9l-1.9,1.9l-1.9,-1.9zM535.8,424.7l1.9,1.9l-1.9,1.9l-1.9,-1.9zM537.9,424.7l1.9,1.9l-1.9,1.9l-1.9,-1.9zM499.5,429.4l1.9,1.9l-1.9,1.9l-1.9,-1.9zM504.8,429.4l1.9,1.9l-1.9,1.9l-1.9,-1.9zM515.9,429.4l1.9,1.9l-1.9,1.9l-1.9,-1.9zM519.1,428.4l1.9,1.9l-1.9,1.9l-1.9,-1.9zM483.2,432.5l1.9,1.9l-1.9,1.9l-1.9,-1.9zM489.3,431.5l1.9,1.9l-1.9,1.9l-1.9,-1.9zM487.1,437.4l1.9,1.9l-1.9,1.9l-1.9,-1.9zM497.0,438.9l1.9,1.9l-1.9,1.9l-1.9,-1.9zM517.4,436.2l1.9,1.9l-1.9,1.9l-1.9,-1.9zM481.6,442.5l1.9,1.9l-1.9,1.9l-1.9,-1.9zM490.8,443.0l1.9,1.9l-1.9,1.9l-1.9,-1.9zM503.1,444.1l1.9,1.9l-1.9,1.9l-1.9,-1.9zM508.7,443.3l1.9,1.9l-1.9,1.9l-1.9,-1.9zM512.8,441.0l1.9,1.9l-1.9,1.9l-1.9,-1.9zM504.6,447.4l1.9,1.9l-1.9,1.9l-1.9,-1.9zM481.1,447.1l1.9,1.9l-1.9,1.9l-1.9,-1.9zM485.2,447.6l1.9,1.9l-1.9,1.9l-1.9,-1.9zM478.6,452.2l1.9,1.9l-1.9,1.9l-1.9,-1.9zM527.1,445.6l1.9,1.9l-1.9,1.9l-1.9,-1.9zM530.7,447.1l1.9,1.9l-1.9,1.9l-1.9,-1.9zM533.2,443.5l1.9,1.9l-1.9,1.9l-1.9,-1.9zM534.3,442.0l1.9,1.9l-1.9,1.9l-1.9,-1.9zM539.2,440.3l1.9,1.9l-1.9,1.9l-1.9,-1.9zM512.8,453.2l1.9,1.9l-1.9,1.9l-1.9,-1.9zM542.4,454.3l1.9,1.9l-1.9,1.9l-1.9,-1.9zM487.8,455.8l1.9,1.9l-1.9,1.9l-1.9,-1.9zM486.2,459.1l1.9,1.9l-1.9,1.9l-1.9,-1.9zM489.3,461.4l1.9,1.9l-1.9,1.9l-1.9,-1.9zM477.0,460.4l1.9,1.9l-1.9,1.9l-1.9,-1.9zM498.7,461.1l1.9,1.9l-1.9,1.9l-1.9,-1.9zM504.1,458.9l1.9,1.9l-1.9,1.9l-1.9,-1.9zM505.7,461.4l1.9,1.9l-1.9,1.9l-1.9,-1.9zM505.1,464.5l1.9,1.9l-1.9,1.9l-1.9,-1.9zM516.9,457.8l1.9,1.9l-1.9,1.9l-1.9,-1.9zM518.9,461.4l1.9,1.9l-1.9,1.9l-1.9,-1.9zM524.0,458.9l1.9,1.9l-1.9,1.9l-1.9,-1.9zM592.2,344.7l1.9,1.9l-1.9,1.9l-1.9,-1.9zM546.8,378.1l1.9,1.9l-1.9,1.9l-1.9,-1.9zM563.2,374.6l1.9,1.9l-1.9,1.9l-1.9,-1.9zM593.5,375.9l1.9,1.9l-1.9,1.9l-1.9,-1.9zM602.7,377.7l1.9,1.9l-1.9,1.9l-1.9,-1.9zM560.6,445.0l1.9,1.9l-1.9,1.9l-1.9,-1.9zM594.2,439.9l1.9,1.9l-1.9,1.9l-1.9,-1.9zM626.8,347.9l1.9,1.9l-1.9,1.9l-1.9,-1.9z" fill="none" stroke="#4a4a4a" stroke-width="1.15" stroke-linejoin="round"/>
<path d="M424.8,435.2 C425.7,434.8 428.8,433.3 430.4,432.6 C432.0,431.9 433.1,431.6 434.7,431.2 C436.3,430.8 437.7,430.6 440.0,430.5 C442.3,430.4 445.6,430.3 448.4,430.4 C451.2,430.4 454.3,430.6 456.8,430.8 C459.3,431.0 461.6,431.2 463.5,431.5 C465.4,431.8 466.5,432.1 468.5,432.5 C470.5,432.9 472.6,433.2 475.3,433.8 C478.1,434.4 481.9,435.5 485.0,436.2 C488.1,436.9 491.0,437.8 493.8,438.2 C496.6,438.6 499.5,438.8 501.7,438.9 C503.9,438.9 505.1,438.9 507.0,438.5 C508.9,438.1 511.2,437.4 513.4,436.3 C515.6,435.2 518.1,433.7 520.4,432.0 C522.7,430.3 525.1,427.8 527.4,426.0 C529.7,424.2 532.1,423.0 534.4,421.3 C536.7,419.6 539.1,417.6 541.4,416.0 C543.7,414.4 546.1,412.8 548.4,411.4 C550.7,409.9 553.1,408.7 555.4,407.3 C557.7,405.9 560.3,404.3 562.4,403.2 C564.5,402.1 565.4,401.7 567.8,400.5 C570.2,399.3 574.0,397.8 577.0,396.1 C580.0,394.4 583.1,392.1 586.1,390.2 C589.1,388.2 592.5,386.2 595.2,384.4 C597.9,382.6 600.0,381.2 602.4,379.2 C604.8,377.2 607.3,374.8 609.6,372.6 C611.9,370.4 614.2,368.3 616.1,366.1 C618.0,363.9 619.7,361.7 621.3,359.6 C622.9,357.5 625.1,354.5 625.9,353.5" fill="none" stroke="#686868" stroke-width="1.2"/>
</svg></body></html>
